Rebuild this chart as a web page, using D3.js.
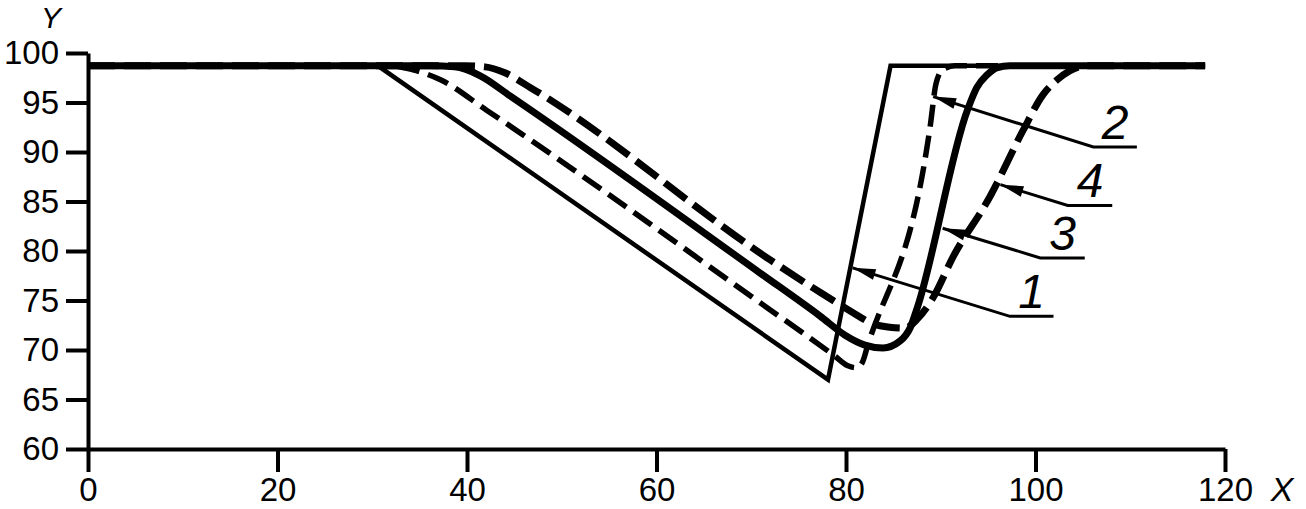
<!DOCTYPE html>
<html>
<head>
<meta charset="utf-8">
<script src="https://cdn.jsdelivr.net/npm/d3@7"></script>
<style>
  html, body { margin: 0; padding: 0; background: #fff; }
  svg { display: block; }
  text { font-family: "Liberation Sans", Arial, sans-serif; fill: #000; }
</style>
</head>
<body>
<svg id="chart" width="1306" height="509"></svg>
<script>
// ---- data ----
const xTicks = [0, 20, 40, 60, 80, 100, 120];
const yTicks = [60, 65, 70, 75, 80, 85, 90, 95, 100];

const curve1X = [0, 30.6, 78.1, 84.7, 117.9];
const curve1Y = [98.7, 98.7, 67.0, 98.7, 98.7];

const curve2X = [0, 31.9, 34.3, 37.2, 42.1, 70.9, 78.8, 80.2, 81.1, 81.7, 82.3, 88.9, 89.5, 90.2, 91.5, 117.9];
const curve2Y = [98.7, 98.7, 98.3, 97.3, 94.2, 74.8, 69.4, 68.4, 68.2, 68.7, 70.5, 92.7, 96.9, 98.3, 98.7, 98.7];

const curve3X = [0, 36.1, 38.7, 41.4, 44.5, 70.9, 77.3, 79.9, 82.0, 83.9, 85.7, 86.8, 87.5, 92.8, 93.8, 94.9, 95.9, 97.3, 117.9];
const curve3Y = [98.7, 98.7, 98.6, 97.7, 95.7, 77.8, 73.4, 71.5, 70.5, 70.2, 70.9, 72.3, 74.2, 94.2, 96.5, 97.8, 98.5, 98.7, 98.7];

const curve4X = [0, 39.8, 41.9, 44.0, 46.7, 72.0, 77.3, 80.7, 82.7, 84.6, 86.2, 87.5, 89.2, 91.3, 95.2, 98.7, 100.8, 102.3, 103.6, 105.4, 117.9];
const curve4Y = [98.7, 98.7, 98.6, 98.0, 96.5, 79.1, 75.8, 73.8, 72.7, 72.3, 72.2, 73.1, 75.3, 79.4, 85.5, 92.2, 95.8, 97.3, 98.2, 98.7, 98.7];

const labels = ["1", "2", "3", "4"];
const tipX = [80.7, 89.2, 90.2, 96.3];
const tipY = [78.3, 95.6, 82.3, 86.7];
const underX0 = [97.3, 106.1, 100.5, 103.4];
const underX1 = [101.9, 110.7, 105.2, 108.1];
const underY = [73.4, 90.5, 79.3, 84.6];

// ---- scales ----
const svg = d3.select("#chart");
const x = d3.scaleLinear().domain([0, 120]).range([88, 1225]);
const y = d3.scaleLinear().domain([60, 100]).range([449, 53]);

// ---- axes ----
const yAxis = d3.axisLeft(y).tickValues(yTicks).tickSize(22).tickSizeOuter(0).tickPadding(7).tickFormat(d3.format("d"));
const xAxis = d3.axisBottom(x).tickValues(xTicks).tickSize(23).tickSizeOuter(0).tickPadding(6).tickFormat(d3.format("d"));

const gy = svg.append("g").attr("transform", `translate(${x(0)},0)`).call(yAxis);
const gx = svg.append("g").attr("transform", `translate(0,${y(60)})`).call(xAxis);
[gy, gx].forEach(g => {
  g.select(".domain").attr("stroke", "#000").attr("stroke-width", 4);
  g.selectAll(".tick line").attr("stroke", "#000").attr("stroke-width", 4);
  g.selectAll(".tick text").attr("font-size", 33).attr("font-family", "Liberation Sans, Arial, sans-serif").attr("fill", "#000");
});

svg.append("text").attr("x", 51).attr("y", 28).attr("text-anchor", "middle")
  .attr("font-size", 30).attr("font-style", "italic").text("Y");
svg.append("text").attr("x", 1282).attr("y", 501).attr("text-anchor", "middle")
  .attr("font-size", 34).attr("font-style", "italic").text("X");

// ---- curves ----
function pts(xs, ys) { return xs.map((v, i) => [v, ys[i]]); }
const lineLin = d3.line().x(d => x(d[0])).y(d => y(d[1]));
const lineSmooth = d3.line().x(d => x(d[0])).y(d => y(d[1])).curve(d3.curveMonotoneX);

const plot = svg.append("g").attr("fill", "none").attr("stroke", "#000");
plot.append("path").attr("d", lineLin(pts(curve1X, curve1Y))).attr("stroke-width", 4.5);
plot.append("path").attr("d", lineSmooth(pts(curve2X, curve2Y))).attr("stroke-width", 5.5).attr("stroke-dasharray", "22,9");
plot.append("path").attr("d", lineSmooth(pts(curve3X, curve3Y))).attr("stroke-width", 7);
plot.append("path").attr("d", lineSmooth(pts(curve4X, curve4Y))).attr("stroke-width", 7).attr("stroke-dasharray", "27,9");

// ---- annotations ----
const ann = svg.append("g");
labels.forEach((lab, i) => {
  const tx = x(tipX[i]), ty = y(tipY[i]);
  const ux0 = x(underX0[i]), ux1 = x(underX1[i]), uy = y(underY[i]);
  ann.append("path")
    .attr("d", `M${ux1},${uy}L${ux0},${uy}L${tx},${ty}`)
    .attr("fill", "none").attr("stroke", "#000").attr("stroke-width", 3);
  const ang = Math.atan2(uy - ty, ux0 - tx);
  const L = 23, W = 5.5;
  const bx = tx + L * Math.cos(ang), by = ty + L * Math.sin(ang);
  const px = -Math.sin(ang) * W, py = Math.cos(ang) * W;
  ann.append("path")
    .attr("d", `M${tx},${ty}L${bx + px},${by + py}L${bx - px},${by - py}Z`)
    .attr("fill", "#000");
  ann.append("text")
    .attr("x", (ux0 + ux1) / 2).attr("y", uy - 8)
    .attr("text-anchor", "middle").attr("font-size", 48).attr("font-style", "italic")
    .text(lab);
});
</script>
</body>
</html>
